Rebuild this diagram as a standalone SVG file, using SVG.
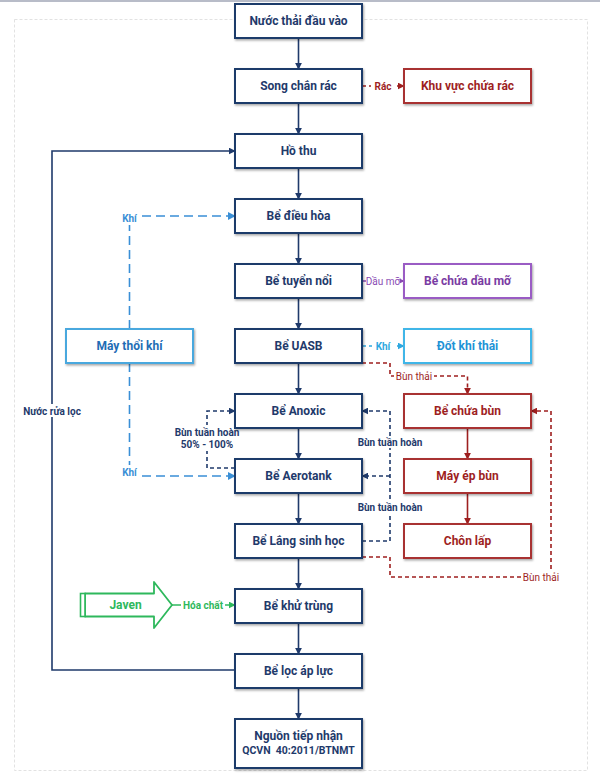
<svg xmlns="http://www.w3.org/2000/svg" width="600" height="778" viewBox="0 0 600 778">
<defs>
<filter id="sh" x="-10%" y="-10%" width="130%" height="140%"><feDropShadow dx="1" dy="1.5" stdDeviation="1" flood-color="#000" flood-opacity="0.35"/></filter>
<marker id="aN" viewBox="0 0 10 10" refX="9" refY="5" markerWidth="7" markerHeight="7" orient="auto-start-reverse" markerUnits="userSpaceOnUse"><path d="M0,0 L10,5 L0,10 Z" fill="#1f3a6b"/></marker>
<marker id="aR" viewBox="0 0 10 10" refX="9" refY="5" markerWidth="7" markerHeight="7" orient="auto" markerUnits="userSpaceOnUse"><path d="M0,0 L10,5 L0,10 Z" fill="#9e1f1f"/></marker>
<marker id="aP" viewBox="0 0 10 10" refX="9" refY="5" markerWidth="6" markerHeight="6" orient="auto" markerUnits="userSpaceOnUse"><path d="M0,0 L10,5 L0,10 Z" fill="#8a4bb3"/></marker>
<marker id="aC" viewBox="0 0 10 10" refX="9" refY="5" markerWidth="7" markerHeight="7" orient="auto" markerUnits="userSpaceOnUse"><path d="M0,0 L10,5 L0,10 Z" fill="#2fa8e0"/></marker>
<marker id="aB" viewBox="0 0 10 10" refX="9" refY="5" markerWidth="8" markerHeight="8" orient="auto" markerUnits="userSpaceOnUse"><path d="M0,0 L10,5 L0,10 Z" fill="#3a8fd6"/></marker>
<marker id="aG" viewBox="0 0 10 10" refX="9" refY="5" markerWidth="7" markerHeight="7" orient="auto" markerUnits="userSpaceOnUse"><path d="M0,0 L10,5 L0,10 Z" fill="#2eb85c"/></marker>
</defs>
<style>
text{font-family:Roboto,"Liberation Sans",sans-serif;font-weight:bold;text-anchor:middle;dominant-baseline:central}
.box{fill:#fff;stroke-width:2;filter:url(#sh)}
.n rect{stroke:#1f3a6b}.n text{fill:#1f3a6b;font-size:12px}
.r rect{stroke:#a83232}.r text{fill:#9e1f1f;font-size:12px}
.p rect{stroke:#9a5cc4}.p text{fill:#7a3ca3;font-size:12px}
.c rect{stroke:#3fb6e8}.c text{fill:#1e93d6;font-size:12px}
.m rect{stroke:#4aa8de}.m text{fill:#1f6db5;font-size:12px}
.lbl{font-size:10px}
.bg{fill:#fff}
.ln{fill:none;stroke-width:1.6}
</style>
<rect x="0" y="0" width="600" height="778" fill="#fff"/>
<line x1="0" y1="1" x2="600" y2="1" stroke="#b8bcc8" stroke-width="2"/>
<rect x="14.5" y="19.5" width="573" height="751" fill="none" stroke="#e2e2e2" stroke-width="1" stroke-dasharray="3 2"/>

<g id="connectors">
  <g class="ln" stroke="#1f3a6b" marker-end="url(#aN)">
    <path d="M298.5,38 V69"/>
    <path d="M298.5,103 V134"/>
    <path d="M298.5,168 V199"/>
    <path d="M298.5,233 V264"/>
    <path d="M298.5,298 V329"/>
    <path d="M298.5,363 V394"/>
    <path d="M298.5,428 V459"/>
    <path d="M298.5,493 V524"/>
    <path d="M298.5,558 V589"/>
    <path d="M298.5,623 V654"/>
    <path d="M298.5,688 V719"/>
    <path d="M235,670 H52 V151 H235"/>
  </g>
  <g class="ln" stroke="#1f3a6b" stroke-dasharray="4 3" stroke-width="1.5">
    <path d="M235,468 H207 V411 H235" marker-end="url(#aN)"/>
    <path d="M362,541 H390 V411 H362" marker-end="url(#aN)"/>
    <path d="M390,476 H362" marker-end="url(#aN)"/>
  </g>
  <g class="ln" stroke="#9e1f1f" stroke-dasharray="4 3" stroke-width="1.5">
    <path d="M362,86 H404" marker-end="url(#aR)"/>
    <path d="M362,363 H390 V376 H467.5 V394" marker-end="url(#aR)"/>
    <path d="M362,557 H390 V577 H551 V411 H531" marker-end="url(#aR)"/>
  </g>
  <g class="ln" stroke="#9e1f1f" marker-end="url(#aR)">
    <path d="M467.5,428 V459"/>
    <path d="M467.5,493 V524"/>
  </g>
  <path class="ln" d="M362,281 H404" stroke="#8a4bb3" stroke-width="1.4" marker-end="url(#aP)"/>
  <path class="ln" d="M362,346 H404" stroke="#2fa8e0" stroke-dasharray="4 3" stroke-width="1.5" marker-end="url(#aC)"/>
  <g class="ln" stroke="#3a8fd6" stroke-dasharray="9 5" stroke-width="1.8">
    <path d="M129.5,329 V225"/>
    <path d="M142,216 H235" marker-end="url(#aB)"/>
    <path d="M129.5,363 V466"/>
    <path d="M142,476 H235" marker-end="url(#aB)"/>
  </g>
  <path class="ln" d="M172,605 H235" stroke="#2eb85c" stroke-width="1.5" marker-end="url(#aG)"/>

  <rect class="bg" x="371" y="80" width="24" height="12"/>
  <text class="lbl" x="383" y="86" fill="#9e1f1f">Rác</text>
  <rect class="bg" x="366" y="275" width="34" height="12"/>
  <text class="lbl" x="383" y="281" fill="#8a4bb3" style="font-weight:normal">Dầu mỡ</text>
  <rect class="bg" x="372" y="340" width="22" height="12"/>
  <text class="lbl" x="383" y="346" fill="#2fa8e0">Khí</text>
  <rect class="bg" x="394" y="370" width="40" height="12"/>
  <text class="lbl" x="414" y="376" fill="#9e1f1f" style="font-weight:normal">Bùn thải</text>
  <rect class="bg" x="521" y="571" width="40" height="12"/>
  <text class="lbl" x="541" y="577" fill="#9e1f1f" style="font-weight:normal">Bùn thải</text>
  <rect class="bg" x="119" y="211" width="21" height="13"/>
  <text class="lbl" x="129.5" y="218" fill="#3a8fd6">Khí</text>
  <rect class="bg" x="119" y="465" width="21" height="13"/>
  <text class="lbl" x="129.5" y="472" fill="#3a8fd6">Khí</text>
  <rect class="bg" x="174" y="425" width="66" height="26"/>
  <text class="lbl" x="207" y="432" fill="#1f3a6b">Bùn tuần hoàn</text>
  <text class="lbl" x="207" y="444" fill="#1f3a6b">50% - 100%</text>
  <rect class="bg" x="357" y="436" width="66" height="12"/>
  <text class="lbl" x="390" y="442" fill="#1f3a6b">Bùn tuần hoàn</text>
  <rect class="bg" x="357" y="501" width="66" height="12"/>
  <text class="lbl" x="390" y="507" fill="#1f3a6b">Bùn tuần hoàn</text>
  <rect class="bg" x="22" y="404" width="60" height="13"/>
  <text class="lbl" x="52" y="411" fill="#1f3a6b">Nước rửa lọc</text>
  <rect class="bg" x="181" y="599" width="44" height="12"/>
  <text class="lbl" x="203" y="605" fill="#2eb85c">Hóa chất</text>
</g>

<g id="n1" class="n"><rect class="box" x="235" y="4" width="127" height="34"/><text x="298.5" y="21">Nước thải đầu vào</text></g>
<g id="n2" class="n"><rect class="box" x="235" y="69" width="127" height="34"/><text x="298.5" y="86">Song chắn rác</text></g>
<g id="n3" class="n"><rect class="box" x="235" y="134" width="127" height="34"/><text x="298.5" y="151">Hồ thu</text></g>
<g id="n4" class="n"><rect class="box" x="235" y="199" width="127" height="34"/><text x="298.5" y="216">Bể điều hòa</text></g>
<g id="n5" class="n"><rect class="box" x="235" y="264" width="127" height="34"/><text x="298.5" y="281">Bể tuyển nổi</text></g>
<g id="n6" class="n"><rect class="box" x="235" y="329" width="127" height="34"/><text x="298.5" y="346">Bể UASB</text></g>
<g id="n7" class="n"><rect class="box" x="235" y="394" width="127" height="34"/><text x="298.5" y="411">Bể Anoxic</text></g>
<g id="n8" class="n"><rect class="box" x="235" y="459" width="127" height="34"/><text x="298.5" y="476">Bể Aerotank</text></g>
<g id="n9" class="n"><rect class="box" x="235" y="524" width="127" height="34"/><text x="298.5" y="541">Bể Lắng sinh học</text></g>
<g id="n10" class="n"><rect class="box" x="235" y="589" width="127" height="34"/><text x="298.5" y="606">Bể khử trùng</text></g>
<g id="n11" class="n"><rect class="box" x="235" y="654" width="127" height="34"/><text x="298.5" y="671">Bể lọc áp lực</text></g>
<g id="n12" class="n"><rect class="box" x="235" y="719" width="127" height="49"/><text x="298.5" y="736">Nguồn tiếp nhận</text><text x="298.5" y="750" style="font-size:10.5px">QCVN&#160; 40:2011/BTNMT</text></g>

<g id="s1" class="r"><rect class="box" x="404" y="69" width="127" height="34"/><text x="467.5" y="86">Khu vực chứa rác</text></g>
<g id="s2" class="p"><rect class="box" x="404" y="264" width="127" height="34"/><text x="467.5" y="281">Bể chứa dầu mỡ</text></g>
<g id="s3" class="c"><rect class="box" x="404" y="329" width="127" height="34"/><text x="467.5" y="346">Đốt khí thải</text></g>
<g id="s4" class="r"><rect class="box" x="404" y="394" width="127" height="34"/><text x="467.5" y="411">Bể chứa bùn</text></g>
<g id="s5" class="r"><rect class="box" x="404" y="459" width="127" height="34"/><text x="467.5" y="476">Máy ép bùn</text></g>
<g id="s6" class="r"><rect class="box" x="404" y="524" width="127" height="34"/><text x="467.5" y="541">Chôn lấp</text></g>
<g id="s7" class="m"><rect class="box" x="66" y="329" width="127" height="34"/><text x="129.5" y="346">Máy thổi khí</text></g>

<g id="javen">
  <path d="M85,593.5 H154 V582 L172,605 L154,628 V616.5 H85 Z" fill="#fff" stroke="#2eb85c" stroke-width="1.8" stroke-linejoin="round"/>
  <rect x="80.5" y="593.5" width="4.5" height="23" fill="#fff" stroke="#2eb85c" stroke-width="1.6"/>
  <text x="125.5" y="605" fill="#2eb85c" style="font-size:12px">Javen</text>
</g>
</svg>
